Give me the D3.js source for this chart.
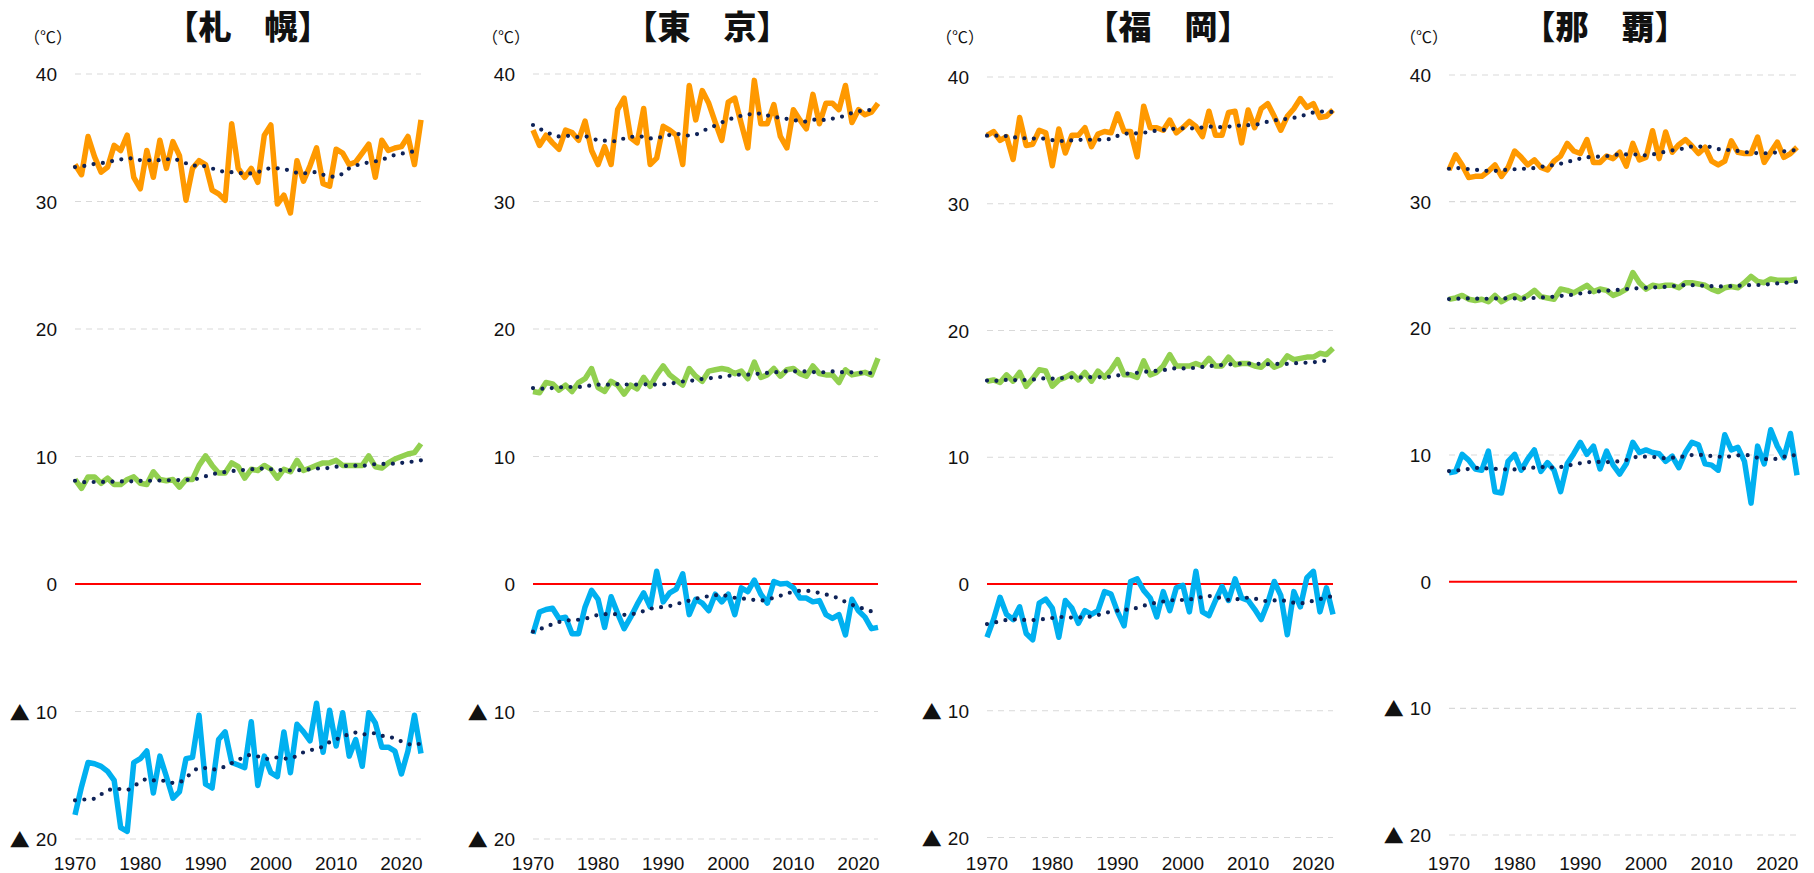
<!DOCTYPE html>
<html>
<head>
<meta charset="utf-8">
<script src="https://cdn.jsdelivr.net/npm/d3@7"></script>
<style>
body { margin: 0; background: #fff; }
svg text { fill: #111; }
</style>
</head>
<body>
<div id="chart"></div>
<script>
// years on the x axis
const years = d3.range(1970, 2024);
const xTicks = [1970, 1980, 1990, 2000, 2010, 2020];
const yTicks = [40, 30, 20, 10, 0, -10, -20];

// 札幌
const sapporoMax = [32.9,32.1,35.1,33.5,32.3,32.7,34.4,34.0,35.2,31.9,31.0,34.0,31.9,34.8,32.6,34.7,33.6,30.1,32.6,33.2,
  32.9,30.9,30.6,30.1,36.1,32.6,31.9,32.6,31.5,35.2,36.0,29.8,30.5,29.1,33.2,31.6,32.8,34.2,31.4,31.2,
  34.1,33.8,32.9,33.1,33.8,34.5,31.9,34.8,34.0,34.2,34.3,35.1,32.9,36.4];
const sapporoAvg = [8.2,7.5,8.4,8.4,7.9,8.3,7.8,7.8,8.2,8.4,7.9,7.8,8.8,8.2,8.1,8.2,7.6,8.2,8.2,9.3,
  10.05,9.3,8.7,8.7,9.5,9.2,8.3,9.0,8.9,9.3,9.0,8.3,9.0,8.8,9.7,8.9,9.1,9.3,9.5,9.5,
  9.7,9.3,9.3,9.3,9.3,10.05,9.2,9.1,9.5,9.8,10.0,10.2,10.3,11.0];
const sapporoMin = [-18.1,-15.9,-14.0,-14.1,-14.3,-14.7,-15.4,-19.1,-19.4,-14.0,-13.7,-13.1,-16.4,-13.5,-15.1,-16.8,-16.3,-13.7,-13.6,-10.3,
  -15.7,-16.0,-12.2,-11.6,-14.0,-14.2,-14.4,-10.8,-15.8,-13.5,-14.8,-15.1,-11.6,-14.8,-11.0,-11.6,-12.3,-9.35,-13.2,-9.9,
  -12.7,-10.1,-13.5,-12.2,-14.3,-10.1,-10.9,-12.8,-12.8,-13.1,-14.9,-13.1,-10.3,-13.3];
// 札幌 trend lines (dotted)
const sapporoMaxTrend = [32.7,32.75,32.85,32.95,33.0,33.1,33.2,33.3,33.4,33.35,33.25,33.25,33.2,33.25,33.3,33.35,33.2,33.0,32.8,32.85,
  32.75,32.6,32.4,32.35,32.3,32.25,32.2,32.2,32.3,32.5,32.6,32.6,32.55,32.4,32.25,32.2,32.3,32.3,32.1,31.95,
  31.95,32.2,32.6,32.8,33.0,33.05,33.15,33.25,33.5,33.65,33.75,33.85,33.95,34.1];
const sapporoAvgTrend = [8.1,8.0,7.98,8.0,8.0,8.02,8.03,8.04,8.05,8.05,8.08,8.1,8.1,8.12,8.13,8.15,8.15,8.17,8.18,8.3,
  8.45,8.6,8.7,8.78,8.85,8.9,8.95,9.0,9.05,9.05,9.0,8.95,8.92,8.9,8.92,8.95,9.0,9.05,9.08,9.1,
  9.2,9.25,9.27,9.28,9.28,9.33,9.4,9.42,9.42,9.45,9.5,9.55,9.62,9.7];
const sapporoMinTrend = [-16.97,-16.92,-16.88,-16.84,-16.5,-16.2,-16.08,-16.08,-16.15,-15.85,-15.55,-15.3,-15.4,-15.43,-15.43,-15.6,-15.55,-15.2,-14.75,-14.44,
  -14.44,-14.55,-14.5,-14.3,-14.05,-13.8,-13.55,-13.4,-13.52,-13.7,-13.72,-13.6,-13.68,-13.7,-13.45,-13.2,-13.05,-12.9,-12.75,-12.4,
  -12.2,-11.95,-11.8,-11.65,-11.8,-11.75,-11.7,-11.9,-12.0,-12.1,-12.35,-12.55,-12.6,-12.5];

// 東京
const tokyoMax = [35.6,34.4,35.2,34.6,34.1,35.6,35.4,34.8,36.3,34.0,32.9,34.3,32.9,37.2,38.1,35.0,34.6,37.3,32.9,33.4,
  35.9,35.6,35.2,32.9,39.1,36.4,38.7,37.7,36.2,34.8,37.8,38.1,36.1,34.2,39.5,36.1,36.1,37.6,35.1,34.2,
  37.2,36.4,35.7,38.4,36.1,37.7,37.7,37.2,39.1,36.2,37.2,36.8,37.0,37.7];
const tokyoAvg = [15.1,15.0,15.8,15.7,15.2,15.6,15.1,15.8,16.1,16.9,15.4,15.1,15.9,15.6,14.9,15.6,15.3,16.2,15.5,16.4,
  17.1,16.4,16.0,15.6,16.9,16.3,15.9,16.7,16.8,16.9,16.8,16.5,16.7,16.1,17.4,16.2,16.4,16.9,16.3,16.8,
  16.9,16.5,16.3,17.1,16.5,16.4,16.4,15.8,16.8,16.4,16.5,16.6,16.4,17.7];
const tokyoMin = [-3.9,-2.2,-2.0,-1.9,-2.7,-2.6,-3.9,-3.9,-1.8,-0.5,-1.2,-3.4,-1.0,-2.3,-3.5,-2.6,-1.6,-0.7,-1.8,1.0,
  -1.4,-0.7,-0.4,0.8,-2.4,-1.2,-1.5,-2.1,-0.8,-1.4,-0.8,-2.4,-0.3,-0.6,0.3,-0.8,-1.5,0.2,0.0,0.05,
  -0.3,-1.1,-1.1,-1.4,-1.3,-2.4,-2.7,-2.4,-4.0,-1.2,-2.1,-2.6,-3.5,-3.4];
const tokyoMaxTrend = [36.0,35.72,35.45,35.25,35.1,35.15,35.15,35.05,35.1,35.0,34.8,34.77,34.72,34.75,34.95,35.08,35.08,35.1,34.95,34.98,
  35.1,35.22,35.3,35.25,35.17,35.25,35.5,35.75,35.95,36.2,36.4,36.6,36.72,36.82,36.88,36.9,36.75,36.65,36.55,36.48,
  36.4,36.3,36.27,36.4,36.45,36.38,36.5,36.62,36.72,36.95,37.08,37.12,37.2,37.3];
const tokyoAvgTrend = [15.37,15.32,15.32,15.37,15.42,15.45,15.45,15.45,15.5,15.58,15.63,15.63,15.65,15.68,15.66,15.63,15.64,15.66,15.66,15.64,
  15.66,15.7,15.8,15.88,15.92,16.0,16.08,16.13,16.2,16.25,16.32,16.38,16.42,16.42,16.45,16.52,16.56,16.6,16.64,16.68,
  16.68,16.68,16.67,16.63,16.6,16.62,16.67,16.63,16.6,16.6,16.58,16.55,16.55,16.6];
const tokyoMinTrend = [-3.74,-3.55,-3.35,-3.15,-2.98,-2.88,-2.82,-2.8,-2.72,-2.58,-2.42,-2.37,-2.36,-2.38,-2.42,-2.38,-2.28,-2.12,-1.95,-1.86,
  -1.8,-1.72,-1.58,-1.44,-1.3,-1.15,-1.05,-0.95,-0.88,-0.88,-0.95,-1.08,-1.13,-1.18,-1.25,-1.3,-1.2,-1.08,-0.92,-0.75,
  -0.62,-0.54,-0.53,-0.6,-0.7,-0.82,-0.95,-1.15,-1.4,-1.62,-1.8,-1.98,-2.15,-2.35];

// 福岡
const fukuokaMax = [35.4,35.7,35.0,35.3,33.5,36.8,34.6,34.7,35.8,35.6,33.0,35.9,34.0,35.4,35.4,36.0,34.5,35.5,35.7,35.6,
  37.1,35.7,35.7,33.7,37.7,36.0,36.0,35.8,36.6,35.6,36.0,36.5,36.1,35.3,37.3,35.4,35.4,37.2,37.3,34.8,
  37.4,36.0,37.5,37.9,36.9,35.8,36.9,37.5,38.3,37.6,37.9,36.8,36.9,37.4];
const fukuokaAvg = [16.0,16.1,15.9,16.5,16.0,16.7,15.6,16.2,16.9,16.8,15.6,16.1,16.3,16.6,16.1,16.7,16.0,16.8,16.3,16.9,
  17.7,16.5,16.5,16.3,17.6,16.5,16.7,17.2,18.1,17.2,17.2,17.2,17.4,17.2,17.8,17.2,17.2,17.9,17.3,17.4,
  17.4,17.2,17.1,17.6,17.1,17.3,18.0,17.7,17.8,17.9,17.9,18.2,18.1,18.6];
const fukuokaMin = [-4.2,-2.8,-1.05,-2.4,-2.8,-1.8,-3.9,-4.4,-1.5,-1.2,-1.9,-4.2,-1.3,-1.9,-3.1,-2.1,-2.4,-2.1,-0.6,-0.8,
  -2.2,-3.3,0.2,0.4,-0.5,-1.1,-2.6,-0.6,-2.1,-0.3,-0.1,-2.2,1.0,-2.2,-2.5,-1.3,-0.2,-1.3,0.4,-1.1,
  -1.3,-2.0,-2.8,-1.5,0.2,-0.9,-4.0,-0.6,-1.8,0.5,1.0,-2.2,-0.3,-2.4];
const fukuokaMaxTrend = [35.37,35.37,35.38,35.33,35.25,35.2,35.16,35.14,35.18,35.1,35.02,34.95,34.95,35.0,35.04,35.05,35.05,35.05,35.07,35.12,
  35.35,35.5,35.56,35.56,35.6,35.7,35.76,35.82,35.88,35.93,35.95,35.95,35.96,36.02,36.08,36.06,36.04,36.08,36.15,36.18,
  36.2,36.24,36.32,36.48,36.57,36.64,36.7,36.78,36.9,37.05,37.2,37.27,37.28,37.22];
const fukuokaAvgTrend = [16.05,16.02,16.05,16.1,16.09,16.08,16.1,16.13,16.2,16.22,16.2,16.22,16.27,16.31,16.3,16.3,16.32,16.33,16.32,16.37,
  16.45,16.55,16.62,16.66,16.72,16.79,16.82,16.87,16.95,17.02,17.01,17.03,17.06,17.13,17.18,17.24,17.28,17.32,17.36,17.39,
  17.38,17.38,17.36,17.34,17.35,17.37,17.36,17.4,17.45,17.46,17.5,17.56,17.63,17.72];
const fukuokaMinTrend = [-3.16,-3.06,-2.95,-2.84,-2.8,-2.82,-2.84,-2.85,-2.8,-2.75,-2.68,-2.6,-2.62,-2.65,-2.64,-2.63,-2.55,-2.45,-2.3,-2.18,
  -2.1,-2.05,-1.98,-1.88,-1.72,-1.58,-1.47,-1.38,-1.3,-1.27,-1.26,-1.22,-1.12,-1.02,-0.95,-1.0,-1.15,-1.25,-1.22,-1.15,
  -1.08,-1.15,-1.3,-1.35,-1.3,-1.28,-1.38,-1.48,-1.52,-1.45,-1.32,-1.2,-1.06,-0.95];

// 那覇
const nahaMax = [32.5,33.7,32.9,31.9,32.0,32.0,32.4,32.9,32.0,32.7,34.0,33.5,32.9,33.3,32.7,32.5,33.2,33.6,34.6,34.0,
  33.8,34.9,33.1,33.1,33.6,33.4,33.9,32.8,34.6,33.3,33.5,35.6,33.4,35.5,33.9,34.5,34.9,34.4,33.8,34.3,
  33.2,32.9,33.2,34.8,33.9,33.8,33.8,35.1,33.1,33.9,34.7,33.5,33.8,34.3];
const nahaAvg = [22.3,22.4,22.6,22.3,22.2,22.3,22.1,22.6,22.1,22.4,22.6,22.3,22.6,23.0,22.5,22.4,22.3,23.1,23.0,22.8,
  23.1,23.4,22.9,23.1,23.0,22.6,22.8,23.1,24.4,23.6,23.1,23.4,23.3,23.4,23.4,23.2,23.6,23.6,23.5,23.4,
  23.1,22.9,23.2,23.3,23.2,23.6,24.1,23.7,23.6,23.9,23.8,23.8,23.8,23.9];
const nahaMin = [8.6,8.7,10.05,9.6,8.9,8.8,10.3,7.1,7.0,9.5,10.05,8.8,9.7,10.4,8.7,9.4,8.8,7.1,9.3,10.1,
  11.0,10.05,10.7,8.9,10.3,9.2,8.5,9.3,11.0,10.2,10.4,10.2,10.1,9.5,9.9,9.0,10.2,11.0,10.8,9.3,
  9.2,8.8,11.6,10.4,10.6,9.5,6.2,10.7,9.3,12.0,10.7,9.8,11.7,8.4];
const nahaMaxTrend = [32.6,32.65,32.64,32.57,32.52,32.48,32.43,32.43,32.48,32.52,32.56,32.6,32.6,32.66,32.75,32.82,32.9,33.0,33.12,33.28,
  33.4,33.5,33.54,33.56,33.6,33.67,33.73,33.73,33.73,33.7,33.66,33.73,33.82,33.95,34.05,34.13,34.22,34.35,34.35,34.36,
  34.3,34.15,34.1,34.06,34.0,33.93,33.86,33.83,33.82,33.84,33.9,33.97,34.03,34.07];
const nahaAvgTrend = [22.31,22.33,22.35,22.36,22.35,22.33,22.34,22.36,22.36,22.36,22.36,22.36,22.37,22.4,22.43,22.46,22.5,22.56,22.62,22.65,
  22.75,22.83,22.87,22.93,22.97,23.0,23.05,23.1,23.15,23.16,23.2,23.23,23.24,23.28,23.33,23.38,23.41,23.41,23.39,23.36,
  23.33,23.31,23.31,23.33,23.36,23.39,23.41,23.42,23.45,23.5,23.55,23.58,23.63,23.67];
const nahaMinTrend = [8.73,8.77,8.82,8.9,8.98,8.95,8.93,8.9,8.88,8.86,8.86,8.92,8.98,9.0,9.04,9.06,9.0,9.05,9.15,9.25,
  9.35,9.42,9.46,9.45,9.44,9.46,9.52,9.6,9.78,9.87,9.87,9.85,9.78,9.74,9.78,9.83,9.9,10.0,10.02,9.95,
  9.92,9.87,9.84,9.9,9.97,10.03,9.9,9.78,9.68,9.66,9.72,9.85,9.98,9.95];

const panels = [
  { title: "【札　幌】", max: sapporoMax, avg: sapporoAvg, min: sapporoMin,
    trends: [sapporoMaxTrend, sapporoAvgTrend, sapporoMinTrend],
    x0: 75, x1: 421, yTop: 74, yBot: 839, tx: 248, ux: 48 },
  { title: "【東　京】", max: tokyoMax, avg: tokyoAvg, min: tokyoMin,
    trends: [tokyoMaxTrend, tokyoAvgTrend, tokyoMinTrend],
    x0: 533, x1: 878, yTop: 74, yBot: 839, tx: 707, ux: 506 },
  { title: "【福　岡】", max: fukuokaMax, avg: fukuokaAvg, min: fukuokaMin,
    trends: [fukuokaMaxTrend, fukuokaAvgTrend, fukuokaMinTrend],
    x0: 987, x1: 1333, yTop: 77, yBot: 837.5, tx: 1168, ux: 960 },
  { title: "【那　覇】", max: nahaMax, avg: nahaAvg, min: nahaMin,
    trends: [nahaMaxTrend, nahaAvgTrend, nahaMinTrend],
    x0: 1449, x1: 1797, yTop: 75, yBot: 835, tx: 1605, ux: 1424 }
];

const width = 1814, height = 873;

const svg = d3.select("#chart")
  .append("svg")
  .attr("width", width)
  .attr("height", height);

const numFont = "'Liberation Sans', Arial, sans-serif";
const jpFont = "'Noto Sans CJK JP', sans-serif";

panels.forEach(p => {
  const x = d3.scaleLinear().domain([1970, 2023]).range([p.x0, p.x1]);
  const y = d3.scaleLinear().domain([-20, 40]).range([p.yBot, p.yTop]);
  const g = svg.append("g");

  // title
  g.append("text")
    .attr("x", p.tx)
    .attr("y", 25)
    .attr("text-anchor", "middle")
    .attr("dominant-baseline", "central")
    .style("font-family", jpFont)
    .style("font-weight", 900)
    .style("font-size", "33px")
    .text(p.title);

  // unit
  g.append("text")
    .attr("x", p.ux)
    .attr("y", 36)
    .attr("text-anchor", "middle")
    .attr("dominant-baseline", "central")
    .style("font-family", jpFont)
    .style("font-size", "16px")
    .text("（℃）");

  // grid
  g.selectAll(".grid")
    .data(yTicks.filter(v => v !== 0))
    .enter()
    .append("line")
    .attr("x1", p.x0).attr("x2", p.x1)
    .attr("y1", d => y(d)).attr("y2", d => y(d))
    .attr("stroke", "#d9d9d9")
    .attr("stroke-width", 1.2)
    .attr("stroke-dasharray", "6 5");

  g.append("line")
    .attr("x1", p.x0).attr("x2", p.x1)
    .attr("y1", y(0)).attr("y2", y(0))
    .attr("stroke", "#ff0000")
    .attr("stroke-width", 2);

  // y labels, negatives shown with ▲
  const ylab = g.selectAll(".ylab")
    .data(yTicks)
    .enter()
    .append("text")
    .attr("x", p.x0 - 18)
    .attr("y", d => y(d))
    .attr("text-anchor", "end")
    .attr("dominant-baseline", "central")
    .style("font-family", numFont)
    .style("font-size", "19px");

  ylab.filter(d => d < 0)
    .append("tspan")
    .style("font-family", jpFont)
    .style("font-size", "20px")
    .text("▲");

  ylab.append("tspan")
    .attr("dx", d => d < 0 ? 6 : 0)
    .text(d => Math.abs(d));

  // x labels
  g.selectAll(".xlab")
    .data(xTicks)
    .enter()
    .append("text")
    .attr("x", d => x(d))
    .attr("y", 870)
    .attr("text-anchor", "middle")
    .style("font-family", numFont)
    .style("font-size", "19px")
    .text(d => d);

  const line = d3.line()
    .x((d, i) => x(years[i]))
    .y(d => y(d));

  const trendLine = d3.line()
    .x((d, i) => x(years[i]))
    .y(d => y(d))
    .curve(d3.curveMonotoneX);

  const series = [
    { vals: p.max, color: "#ff9900" },
    { vals: p.avg, color: "#92d050" },
    { vals: p.min, color: "#00b0f0" }
  ];

  series.forEach(s => {
    g.append("path")
      .datum(s.vals)
      .attr("fill", "none")
      .attr("stroke", s.color)
      .attr("stroke-width", 5.5)
      .attr("stroke-linejoin", "round")
      .attr("d", line);
  });

  // trend lines on top
  p.trends.forEach(t => {
    g.append("path")
      .datum(t)
      .attr("fill", "none")
      .attr("stroke", "#0e2257")
      .attr("stroke-width", 4.2)
      .attr("stroke-linecap", "round")
      .attr("stroke-dasharray", "0 9.4")
      .attr("d", trendLine);
  });
});
</script>
</body>
</html>
